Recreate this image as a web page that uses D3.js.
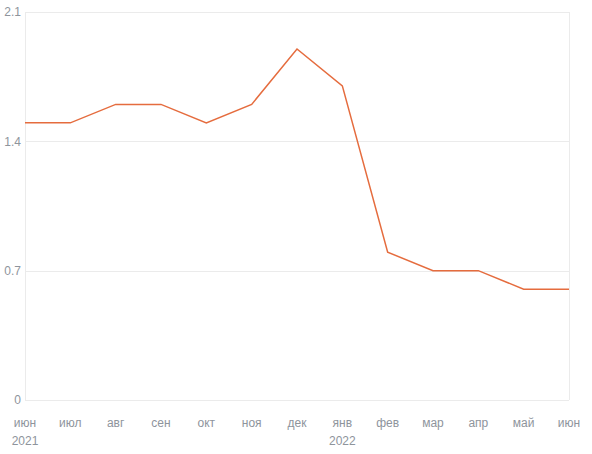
<!DOCTYPE html>
<html>
<head>
<meta charset="utf-8">
<script src="https://cdn.jsdelivr.net/npm/d3@7"></script>
<style>
  body { margin: 0; background: #fff; }
  text { font-family: "Liberation Sans", Arial, sans-serif; font-size: 12px; fill: #8e949c; }
</style>
</head>
<body>
<div id="chart"></div>
<script>
// données
var mois = ["июн", "июл", "авг", "сен", "окт", "ноя", "дек", "янв", "фев", "мар", "апр", "май", "июн"];
var annees = ["2021", "", "", "", "", "", "", "2022", "", "", "", "", ""];
var valeurs = [1.5, 1.5, 1.6, 1.6, 1.5, 1.6, 1.9, 1.7, 0.8, 0.7, 0.7, 0.6, 0.6];
var yTicks = [0, 0.7, 1.4, 2.1];

var width = 592,
    height = 454;
var margin = { top: 12, right: 23, bottom: 54, left: 25 };

var svg = d3.select("#chart")
    .append("svg")
    .attr("width", width)
    .attr("height", height);

var x = d3.scaleLinear()
    .domain([0, mois.length - 1])
    .range([margin.left, width - margin.right]);

var y = d3.scaleLinear()
    .domain([0, 2.1])
    .range([height - margin.bottom, margin.top]);

// grille horizontale
svg.append("g")
    .selectAll("line")
    .data(yTicks)
    .join("line")
    .attr("x1", x(0))
    .attr("x2", x(mois.length - 1))
    .attr("y1", function (d) { return Math.round(y(d)) + 0.5; })
    .attr("y2", function (d) { return Math.round(y(d)) + 0.5; })
    .attr("stroke", "#ebebeb");

// bords gauche et droit
svg.append("g")
    .selectAll("line")
    .data([0, mois.length - 1])
    .join("line")
    .attr("x1", function (d) { return Math.round(x(d)) + 0.5; })
    .attr("x2", function (d) { return Math.round(x(d)) + 0.5; })
    .attr("y1", y(2.1))
    .attr("y2", y(0))
    .attr("stroke", "#ebebeb");

// labels axe y
svg.append("g")
    .selectAll("text")
    .data(yTicks)
    .join("text")
    .attr("x", margin.left - 4)
    .attr("y", function (d) { return y(d); })
    .attr("dy", "0.35em")
    .attr("text-anchor", "end")
    .text(function (d) { return d; });

// labels axe x
svg.append("g")
    .selectAll("text")
    .data(mois)
    .join("text")
    .attr("x", function (d, i) { return x(i); })
    .attr("y", height - margin.bottom + 27)
    .attr("text-anchor", "middle")
    .text(function (d) { return d; });

svg.append("g")
    .selectAll("text")
    .data(annees)
    .join("text")
    .attr("x", function (d, i) { return x(i); })
    .attr("y", height - margin.bottom + 45)
    .attr("text-anchor", "middle")
    .text(function (d) { return d; });

// la courbe
var line = d3.line()
    .x(function (d, i) { return x(i); })
    .y(function (d) { return y(d); });

svg.append("path")
    .datum(valeurs)
    .attr("d", line)
    .attr("fill", "none")
    .attr("stroke", "#e56c3e")
    .attr("stroke-width", 1.5);
</script>
</body>
</html>
